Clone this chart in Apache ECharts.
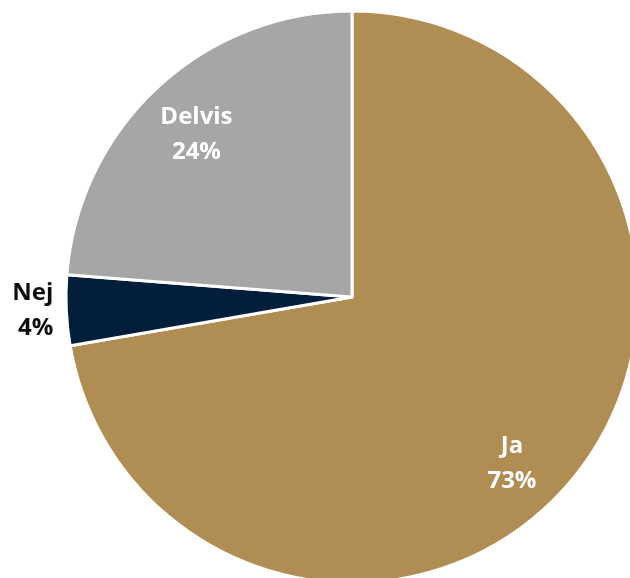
<!DOCTYPE html>
<html>
<head>
<meta charset="utf-8">
<title>Ja / Nej / Delvis</title>
<script src="https://cdn.jsdelivr.net/npm/echarts@6/dist/echarts.min.js"></script>
<style>
  html, body { margin: 0; padding: 0; background: #ffffff; }
  #chart { width: 630px; height: 578px; }
</style>
</head>
<body>
<div id="chart"></div>
<script>
// Answer categories and their shares (percent)
const categories = ['Ja', 'Nej', 'Delvis'];
const shares = [73, 4, 24];
const colors = ['#B08D52', '#031E3A', '#A6A6A6'];

// Pie geometry
const CX = 352, CY = 297, R = 286;
// Inside labels sit at this fraction of the radius; small angular shift per slice (degrees)
const LABEL_RADIUS = [0.79, 0, 0.77];
const LABEL_ANGLE_SHIFT = [6, 0, -1];

const chart = echarts.init(document.getElementById('chart'), null, { renderer: 'canvas' });

const data = categories.map((name, i) => {
  const item = { name: name, value: shares[i], itemStyle: { color: colors[i] } };
  if (name === 'Nej') {
    item.label = { position: 'outside', color: '#0D0D0D', distanceToLabelLine: 5 };
    item.labelLine = { show: false, length: 4, length2: 4 };
  }
  return item;
});

chart.setOption({
  backgroundColor: '#ffffff',
  animation: false,
  series: [{
    type: 'pie',
    center: [CX, CY],
    radius: R,
    startAngle: 90,
    clockwise: true,
    avoidLabelOverlap: false,
    itemStyle: { borderColor: '#ffffff', borderWidth: 3 },
    label: {
      show: true,
      position: 'inside',
      formatter: '{b}\n{c}%',
      color: '#ffffff',
      fontFamily: '"Open Sans", sans-serif',
      fontWeight: 'bold',
      fontSize: 24,
      lineHeight: 35
    },
    labelLine: { show: false },
    labelLayout: function (p) {
      if (categories[p.dataIndex] === 'Nej') return {};
      const r = p.labelRect;
      const lx = r.x + r.width / 2 - CX;
      const ly = r.y + r.height / 2 - CY;
      const k = LABEL_RADIUS[p.dataIndex] / 0.5;
      const a = LABEL_ANGLE_SHIFT[p.dataIndex] * Math.PI / 180;
      const rx = (lx * Math.cos(a) - ly * Math.sin(a)) * k;
      const ry = (lx * Math.sin(a) + ly * Math.cos(a)) * k;
      return { x: CX + rx, y: CY + ry };
    },
    data: data
  }]
});
</script>
</body>
</html>
